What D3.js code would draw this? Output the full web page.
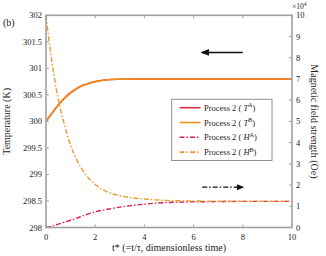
<!DOCTYPE html>
<html><head><meta charset="utf-8">
<script src="https://cdn.jsdelivr.net/npm/d3@7"></script>
<style>
body{margin:0;background:#fff;}
text{font-family:"Liberation Serif","Times New Roman",serif;fill:#222;}
</style></head>
<body><svg id="c" width="326" height="256"></svg>
<script>
// data
const tValues = [0,0.25,0.5,0.75,1,1.25,1.5,1.75,2,2.5,3,3.5,4,4.5,5,6,7,8,9,10];
const TA = [300,300.16,300.31,300.44,300.54,300.62,300.68,300.72,300.75,300.785,300.795,300.8,300.8,300.8,300.8,300.8,300.8,300.8,300.8,300.8];
const TB = [300,300.16,300.31,300.44,300.54,300.62,300.68,300.72,300.75,300.785,300.795,300.8,300.8,300.8,300.8,300.8,300.8,300.8,300.8,300.8];
const HA = [0,0.07,0.16,0.25,0.34,0.44,0.55,0.65,0.74,0.86,0.96,1.04,1.10,1.15,1.18,1.21,1.22,1.23,1.23,1.23];
const HB = [10,7.73,6.04,4.85,3.87,3.19,2.68,2.30,2.03,1.67,1.50,1.40,1.34,1.30,1.27,1.25,1.24,1.23,1.23,1.23];
const xTicks = [0,2,4,6,8,10];
const leftTicks = [298,298.5,299,299.5,300,300.5,301,301.5,302];
const rightTicks = [0,1,2,3,4,5,6,7,8,9,10];
const seriesNames = ["T","T","H","H"];
const seriesSup = ["A","B","A","B"];

const svg = d3.select("#c");
const L=46, R=292, T=15.3, B=227.5;
const x = d3.scaleLinear().domain([0,10]).range([L,R]);
const yL = d3.scaleLinear().domain([298,302]).range([B,T]);
const yR = d3.scaleLinear().domain([0,10]).range([B,T]);

const cRed="#e0303f", cOrange="#f28c1a", cHA="#d8204e", cHB="#eb9a2e";
const dash="5,2,1.5,2";

const g = svg.append("g");
function addLine(vals, ys, color, dasharr, w){
  const line = d3.line().x((d,i)=>x(tValues[i])).y(d=>ys(d)).curve(d3.curveMonotoneX);
  g.append("path").attr("d", line(vals)).attr("fill","none").attr("stroke",color)
   .attr("stroke-width",w).attr("stroke-dasharray",dasharr);
}
addLine(TA,yL,cRed,null,1.6);
addLine(TB,yL,cOrange,null,1.6);
addLine(HA,yR,cHA,dash,1.4);
addLine(HB,yR,cHB,dash,1.4);

// axes
const axisColor="#a0a0a0";
const ax = svg.append("g");
ax.append("rect").attr("x",L).attr("y",T).attr("width",R-L).attr("height",B-T)
  .attr("fill","none").attr("stroke",axisColor).attr("stroke-width",1.6);
xTicks.forEach(v=>{
  ax.append("line").attr("x1",x(v)).attr("x2",x(v)).attr("y1",B).attr("y2",B-3).attr("stroke",axisColor);
  ax.append("line").attr("x1",x(v)).attr("x2",x(v)).attr("y1",T).attr("y2",T+3).attr("stroke",axisColor);
  ax.append("text").attr("x",x(v)).attr("y",B+12).attr("text-anchor","middle").attr("font-size",8.5).text(v);
});
leftTicks.forEach(v=>{
  ax.append("line").attr("x1",L).attr("x2",L+3).attr("y1",yL(v)).attr("y2",yL(v)).attr("stroke",axisColor);
  ax.append("text").attr("x",L-4).attr("y",yL(v)+3).attr("text-anchor","end").attr("font-size",8.5).text(v);
});
rightTicks.forEach(v=>{
  ax.append("line").attr("x1",R).attr("x2",R-3).attr("y1",yR(v)).attr("y2",yR(v)).attr("stroke",axisColor);
  ax.append("text").attr("x",R+4).attr("y",yR(v)+3).attr("text-anchor","start").attr("font-size",8.5).text(v);
});
// x10^4
const mult = svg.append("text").attr("x",R).attr("y",9).attr("font-size",7.5);
mult.append("tspan").text("×10");
mult.append("tspan").attr("dy",-3).attr("font-size",5.5).text("4");

// labels
svg.append("text").attr("transform",`translate(10,${(T+B)/2}) rotate(-90)`)
  .attr("text-anchor","middle").attr("font-size",10).text("Temperature (K)");
svg.append("text").attr("transform",`translate(311,${(T+B)/2}) rotate(90)`)
  .attr("text-anchor","middle").attr("font-size",10).text("Magnetic field strength (Oe)");
svg.append("text").attr("x",(L+R)/2).attr("y",251).attr("text-anchor","middle").attr("font-size",10)
  .text("t* (=t/τ, dimensionless time)");
svg.append("text").attr("x",3).attr("y",26).attr("font-size",10).text("(b)");

// arrows
const defs = svg.append("defs");
defs.append("marker").attr("id","ah").attr("viewBox","0 0 10 10").attr("refX",8).attr("refY",5)
  .attr("markerWidth",6).attr("markerHeight",6).attr("orient","auto")
  .append("path").attr("d","M0,1 L10,5 L0,9 Z").attr("fill","#111");
svg.append("line").attr("x1",x(8)).attr("x2",x(6.35)).attr("y1",yL(301.3)).attr("y2",yL(301.3))
  .attr("stroke","#111").attr("stroke-width",1.5).attr("marker-end","url(#ah)");
svg.append("line").attr("x1",x(6.35)).attr("x2",x(8)).attr("y1",yR(1.9)).attr("y2",yR(1.9))
  .attr("stroke","#111").attr("stroke-width",1.3).attr("stroke-dasharray",dash).attr("marker-end","url(#ah)");

// legend
const lg = svg.append("g");
lg.append("rect").attr("x",171.7).attr("y",99.3).attr("width",100.3).attr("height",61.2)
  .attr("fill","#fff").attr("stroke","#909090").attr("stroke-width",1);
const colors=[cRed,cOrange,cHA,cHB];
const dashes=[null,null,dash,dash];
seriesNames.forEach((n,i)=>{
  const yy = 107.7 + i*14.8;
  lg.append("line").attr("x1",179.5).attr("x2",200.5).attr("y1",yy).attr("y2",yy)
    .attr("stroke",colors[i]).attr("stroke-width",1.6).attr("stroke-dasharray",dashes[i]);
  const t = lg.append("text").attr("x",204).attr("y",yy+3).attr("font-size",8.5);
  t.append("tspan").text("Process 2 ( ");
  t.append("tspan").attr("font-style","italic").text(n);
  t.append("tspan").attr("dy",-3.5).attr("font-size",6).text(seriesSup[i]);
  t.append("tspan").attr("dy",3.5).text(")");
});
</script></body></html>
